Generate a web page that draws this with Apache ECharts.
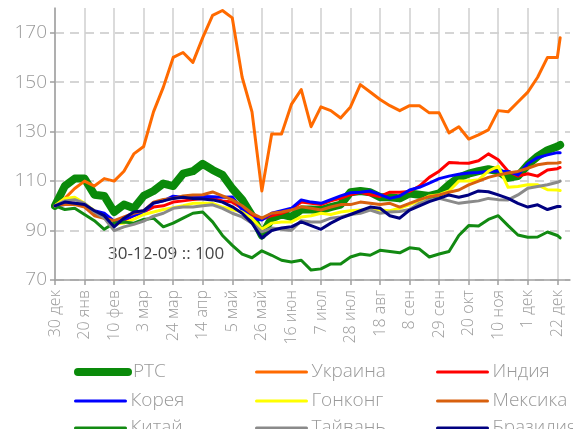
<!DOCTYPE html>
<html>
<head>
<meta charset="utf-8">
<script src="https://cdn.jsdelivr.net/npm/echarts@6/dist/echarts.min.js"></script>
<style>
  html, body { margin: 0; padding: 0; background: #fff; }
  #chart { width: 573px; height: 429px; }
</style>
</head>
<body>
<div id="chart"></div>
<script>
// недельные точки (среды) + последний торговый день
var dates = [
  '2009-12-30', '2010-01-06', '2010-01-13', '2010-01-20', '2010-01-27', '2010-02-03', '2010-02-10', '2010-02-17', '2010-02-24',
  '2010-03-03', '2010-03-10', '2010-03-17', '2010-03-24', '2010-03-31', '2010-04-07', '2010-04-14', '2010-04-21', '2010-04-28',
  '2010-05-05', '2010-05-12', '2010-05-19', '2010-05-26', '2010-06-02', '2010-06-09', '2010-06-16', '2010-06-23', '2010-06-30',
  '2010-07-07', '2010-07-14', '2010-07-21', '2010-07-28', '2010-08-04', '2010-08-11', '2010-08-18', '2010-08-25', '2010-09-01',
  '2010-09-08', '2010-09-15', '2010-09-22', '2010-09-29', '2010-10-06', '2010-10-13', '2010-10-20', '2010-10-27', '2010-11-03',
  '2010-11-10', '2010-11-17', '2010-11-24', '2010-12-01', '2010-12-08', '2010-12-15', '2010-12-22', '2010-12-24'
]

var rts = [100, 108, 111, 111, 104.5, 104, 97.5, 100.5, 99, 104,
  106, 109, 108, 113, 114, 117, 114.5, 112.5, 107, 102.5,
  96, 88, 95, 96.5, 95.5, 98.5, 98.5, 98.3, 99.5, 100.5,
  105.5, 106, 105.5, 103.5, 103.5, 103, 105, 104.5, 104, 105,
  108.5, 111.5, 113, 114, 114.8, 114, 111.3, 112, 116.6, 120,
  122.5, 124, 124.6]
var ukraine = [100, 103, 107, 110, 108, 111, 110, 114, 121, 124,
  138, 148, 160, 162, 158, 168, 177, 179, 176, 152,
  138, 106, 129, 129, 141, 147, 132, 140, 138.5, 135.5,
  140, 149, 146, 143, 140.5, 138.5, 140.5, 140.5, 137.6, 137.6,
  129.5, 132, 127, 128.7, 130.7, 138.5, 138, 142, 146, 152,
  160, 160, 168]
var india = [100, 101, 101, 100, 96.5, 95.5, 93.5, 94, 96, 97.5,
  99.5, 100, 101.5, 102, 102.5, 103, 103, 102, 101.5, 99,
  96, 94.5, 96, 97, 98.5, 101.5, 101, 100.5, 102, 103,
  104.5, 105.5, 104.5, 103.8, 105.5, 105.5, 105.8, 108, 111.5, 114,
  117.5, 117.3, 117.2, 118.2, 121, 118.6, 114, 112, 113, 112,
  114.5, 115, 115.5]
var korea = [100, 100.5, 101, 100.5, 98, 97, 93.8, 94.5, 96, 97.5,
  101, 102, 103.9, 103.5, 103.7, 103.8, 103.7, 103.5, 103.6, 98.5,
  95, 94.3, 97, 98, 99, 102.4, 101.5, 101, 102.5, 104,
  105.3, 105.5, 106, 104.5, 103, 104, 106.4, 107.5, 109.2, 111,
  112, 112.8, 113.3, 113.5, 114, 114, 113.9, 112.5, 117, 119.5,
  120.6, 121.5, 121.5]
var hongkong = [100, 103, 103.5, 101, 98, 95, 92.5, 93, 94.5, 96.5,
  97.5, 98.5, 99.2, 100, 101, 101, 101, 99.5, 98.5, 97.5,
  95, 90.5, 93, 93.5, 93.5, 95.5, 96, 97, 96.5, 97.5,
  98, 98.3, 98.5, 98.3, 98, 99, 100.5, 102, 104, 104.5,
  106, 110, 110, 110.5, 114, 116, 107.5, 107.8, 108.5, 108.5,
  106.5, 106.4, 106.2]
var mexico = [100, 100.5, 100.5, 99.5, 96, 95, 94, 95.5, 97, 98,
  101.5, 102.6, 103, 104, 104.4, 104.5, 105.6, 104, 102.4, 100,
  97, 95, 97, 97.5, 98.3, 99.6, 99, 98.3, 99.5, 100.5,
  100.5, 101.5, 101, 100.5, 101, 99.5, 101, 102.5, 103.7, 104.4,
  105.5, 106.4, 108.5, 110, 111.5, 112.5, 113.3, 113.9, 115.2, 116.6,
  117.2, 117.3, 117.5]
var china = [100, 98.5, 99, 96.5, 94, 90.5, 93, 93.5, 93, 94.5,
  95, 91.5, 93, 95, 97, 97.5, 93.5, 88, 84, 80.5,
  79, 81.8, 80, 78, 77.3, 78, 74, 74.5, 76.5, 76.5,
  79.3, 80.5, 80, 82, 81.5, 81, 83, 82.5, 79.3, 80.5,
  81.5, 88, 92, 91.8, 94.5, 96, 92, 88.2, 87.3, 87.4,
  89.4, 88, 87]
var taiwan = [100, 102, 102.5, 101, 97.5, 95, 90, 91.5, 92.5, 93.8,
  95.8, 97, 99, 99.5, 99.5, 100, 100.4, 99, 97, 95.5,
  93, 89.5, 91, 90.5, 90, 94, 93.5, 93.5, 95, 95.5,
  96.5, 97, 98.3, 97, 97.5, 97.7, 98.5, 101, 102.4, 103,
  102, 101, 101.5, 102, 103, 102.5, 102.4, 104.4, 107.1, 107.8,
  108.5, 109.5, 110]
var brazil = [100, 101.5, 101, 100.5, 98, 96, 91.5, 95, 97.5, 98,
  101.2, 102, 103, 103.5, 103, 102.8, 102.4, 101.5, 99.6, 97,
  93, 87, 90, 91, 91.5, 93.5, 92, 90.5, 93, 95,
  96.5, 98, 99.5, 99, 96, 95, 98.3, 100, 101.7, 103,
  104.4, 103.5, 104.4, 106, 105.7, 104.4, 103, 101, 99.5, 100.4,
  98.5, 99.7, 99.7]

var monthNames = ['янв', 'фев', 'мар', 'апр', 'май', 'июн', 'июл', 'авг', 'сен', 'окт', 'ноя', 'дек']
var baseDate = Date.UTC(2009, 11, 30)
var DAY = 86400000

var dayOf = function (s) {
  var p = s.split('-')
  return Math.round((Date.UTC(+p[0], +p[1] - 1, +p[2]) - baseDate) / DAY)
}
var withDays = function (vals) {
  return vals.map(function (v, i) { return [dayOf(dates[i]), v] })
}

var lines = [
  { name: 'РТС', data: rts, color: '#0a8a0a', width: 8 },
  { name: 'Украина', data: ukraine, color: '#ff6a00', width: 3 },
  { name: 'Индия', data: india, color: '#ff0000', width: 3 },
  { name: 'Корея', data: korea, color: '#0000ff', width: 3 },
  { name: 'Гонконг', data: hongkong, color: '#ffff00', width: 3 },
  { name: 'Мексика', data: mexico, color: '#d8600e', width: 3 },
  { name: 'Китай', data: china, color: '#128a12', width: 3 },
  { name: 'Тайвань', data: taiwan, color: '#8a8a8a', width: 3 },
  { name: 'Бразилия', data: brazil, color: '#000080', width: 3 }
]

var series = lines.map(function (l) {
  return {
    name: l.name,
    type: 'line',
    symbol: 'none',
    animation: false,
    data: withDays(l.data),
    color: l.color,
    lineStyle: { color: l.color, width: l.width, cap: 'round', join: 'round' }
  }
})

// легенда 3x3: по одной легенде на элемент, чтобы колонки стояли ровно
var legendCols = [74, 255, 436]
var legendRows = [362, 391, 418]
var legends = lines.map(function (l, i) {
  return {
    orient: 'horizontal',
    left: legendCols[i % 3],
    top: legendRows[Math.floor(i / 3)],
    padding: 0,
    itemWidth: 50,
    itemHeight: 14,
    selectedMode: false,
    itemStyle: { opacity: 0 },
    lineStyle: { width: l.width, cap: 'round' },
    textStyle: { fontFamily: 'Open Sans', fontWeight: 300, fontSize: 19, lineHeight: 20, color: '#9a9a9a' },
    data: [l.name]
  }
})

var chart = echarts.init(document.getElementById('chart'))
chart.setOption({
  animation: false,
  grid: { left: 55, right: 3, top: 8, bottom: 149 },
  xAxis: {
    type: 'value',
    min: 0,
    max: 366,
    interval: 21,
    axisLine: { lineStyle: { color: '#a0a0a0', width: 1.5 } },
    axisTick: { show: true, length: 5, lineStyle: { color: '#a0a0a0', width: 1.5 } },
    axisLabel: {
      rotate: 90,
      margin: 10,
      showMaxLabel: false,
      fontFamily: 'Open Sans',
      fontWeight: 300,
      fontSize: 16,
      color: '#9a9a9a',
      formatter: function (v) {
        var d = new Date(baseDate + v * DAY)
        return d.getUTCDate() + ' ' + monthNames[d.getUTCMonth()]
      }
    },
    splitLine: { show: true, showMaxLine: false, lineStyle: { color: '#cfcfcf', width: 1.5 } }
  },
  yAxis: {
    type: 'value',
    min: 70,
    max: 180,
    interval: 20,
    axisLine: { show: true, lineStyle: { color: '#a0a0a0', width: 1.5 } },
    axisTick: { show: true, length: 5, lineStyle: { color: '#a0a0a0', width: 1.5 } },
    axisLabel: {
      showMaxLabel: false,
      margin: 8,
      fontFamily: 'Open Sans',
      fontWeight: 300,
      fontSize: 19,
      color: '#9a9a9a'
    },
    splitLine: { show: true, showMaxLine: false, lineStyle: { color: '#c8c8c8', width: 1.5, type: [9, 6] } }
  },
  legend: legends,
  graphic: [{
    type: 'text',
    left: 108,
    top: 246,
    style: { text: '30-12-09 :: 100', fontFamily: 'Open Sans', fontSize: 17, fill: '#444' }
  }],
  series: series
})
</script>
</body>
</html>
